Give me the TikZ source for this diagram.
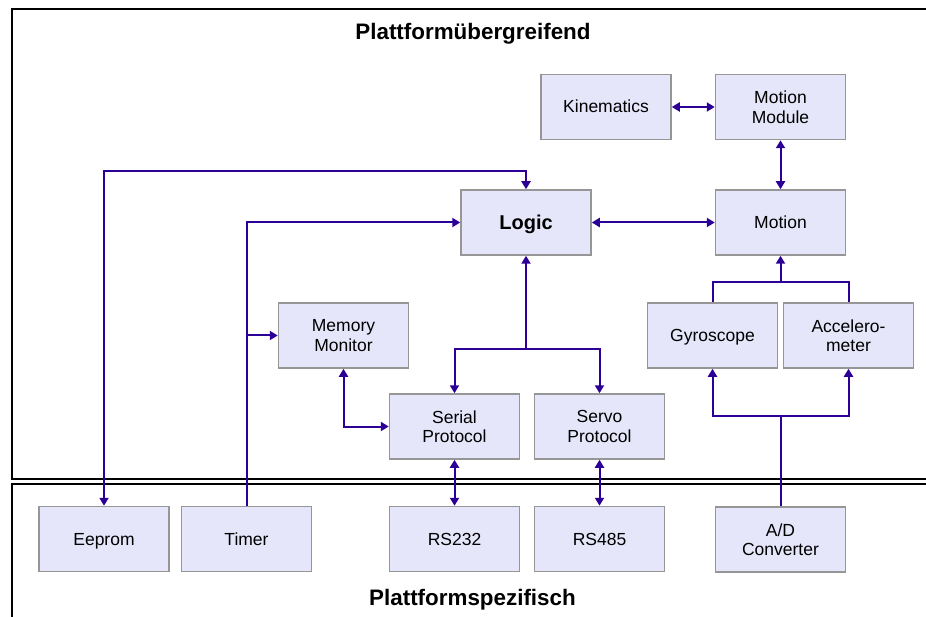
\documentclass[tikz,border=0pt]{standalone}
\usepackage{fontspec}
\setmainfont{Liberation Sans}
\usetikzlibrary{arrows.meta}
\definecolor{linkc}{RGB}{44,0,150}
\definecolor{boxfill}{RGB}{230,230,250}
\definecolor{boxline}{RGB}{150,150,150}
\begin{document}
\begin{tikzpicture}[x=1pt,y=-1pt,
  box/.style={draw=boxline, fill=boxfill, line width=1.5pt, minimum width=130pt, minimum height=65pt, inner sep=0pt, align=center, font=\fontsize{17.5}{19.5}\selectfont},
  oneline/.style={text height=13pt, text depth=1pt},
  link/.style={draw=linkc, line width=2pt},
  frame/.style={draw=black, line width=2pt},
  title/.style={font=\fontsize{22.4}{26}\selectfont\bfseries, anchor=base},
  >={Triangle[length=8pt,width=9pt]}]
\clip (0,0) rectangle (926,617);
\fill[white] (0,0) rectangle (926,617);
% frames
\draw[frame] (12,9) rectangle (960,479);
\draw[frame] (12,484) rectangle (960,660);
\node[title] (t1) at (473,40) {Plattformübergreifend};
\node[title] (t2) at (472.5,605) {Plattformspezifisch};
% boxes
\node[box,oneline] (kin) at (606,107) {Kinematics};
\node[box] (mm) at (780.5,107) {Motion\\Module};
\node[box, font=\fontsize{20}{22}\selectfont\bfseries, text height=15pt, text depth=0pt] (logic) at (526,222.5) {Logic};
\node[box,oneline] (motion) at (780.5,222.5) {Motion};
\node[box] (mem) at (343.5,335.5) {Memory\\Monitor};
\node[box,oneline] (gyro) at (712.5,335.5) {Gyroscope};
\node[box] (acc) at (848.5,335.5) {Accelero-\\meter};
\node[box] (serial) at (454.5,426.5) {Serial\\Protocol};
\node[box] (servo) at (599.5,426.5) {Servo\\Protocol};
\node[box,oneline] (eeprom) at (104,539) {Eeprom};
\node[box,oneline] (timer) at (246.5,539) {Timer};
\node[box,oneline] (rs232) at (454.5,539) {RS232};
\node[box,oneline] (rs485) at (599.5,539) {RS485};
\node[box] (ad) at (780.5,539.5) {A/D\\Converter};
% junctions
\coordinate (jl) at (526,349);
\coordinate (jad) at (780.5,416);
\coordinate (jm) at (780.5,282);
% connectors
\draw[link,<->] (kin.east) -- (mm.west);
\draw[link,<->] (mm.south) -- (motion.north);
\draw[link,<->] (logic.east) -- (motion.west);
\draw[link,<->] (eeprom.north) |- ([yshift=18pt]logic.north) -- (logic.north);
\draw[link,->] (timer.north) |- (logic.west);
\draw[link,->] (timer.north |- mem.west) -- (mem.west);
\draw[link,<->] (mem.south) |- (serial.west);
\draw[link,<-] (logic.south) -- (jl);
\draw[link,->] (jl) -| (serial.north);
\draw[link,->] (jl) -| (servo.north);
\draw[link,<->] (serial.south) -- (rs232.north);
\draw[link,<->] (servo.south) -- (rs485.north);
\draw[link] (ad.north) -- (jad);
\draw[link,->] (jad) -| (gyro.south);
\draw[link,->] (jad) -| (acc.south);
\draw[link] (gyro.north) |- (jm) -| (acc.north);
\draw[link,->] (jm) -- (motion.south);
\end{tikzpicture}
\end{document}
